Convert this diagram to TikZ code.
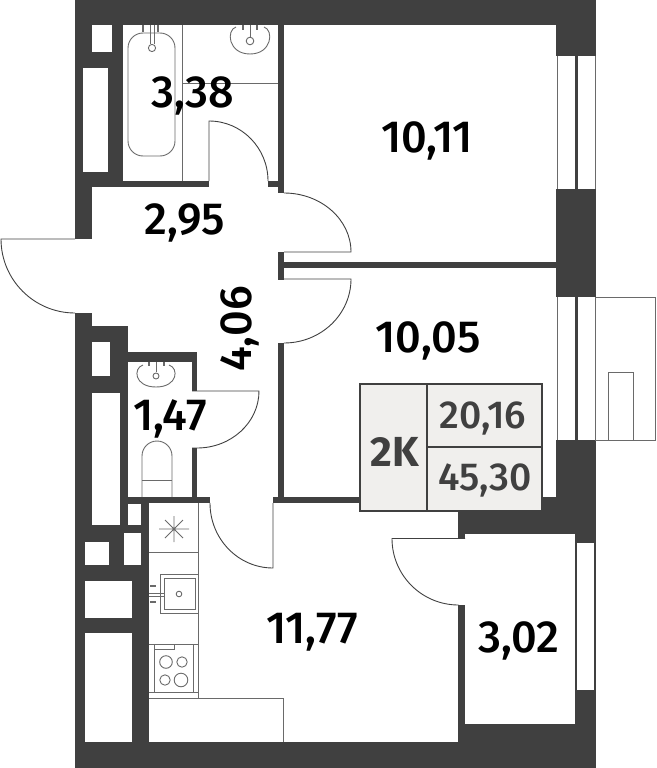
\documentclass[tikz,border=0pt]{standalone}
\usepackage{fontspec}
\setmainfont{Fira Sans}[UprightFont=* Medium,BoldFont=* Bold]
\definecolor{wallc}{HTML}{404040}
\definecolor{boxc}{HTML}{F0EFED}
\definecolor{linec}{HTML}{6A6A6A}
\tikzset{
  wall/.style={fill=wallc,draw=none},
  hole/.style={fill=white,draw=none},
  doorline/.style={draw=wallc,line width=0.9pt},
  fixture/.style={draw=linec,line width=0.9pt},
  area/.style={font=\fontsize{45}{45}\selectfont,text=black,inner sep=0pt},
  boxnum/.style={font=\fontsize{39}{39}\selectfont,text=wallc,inner sep=0pt}
}
\begin{document}
\begin{tikzpicture}[x=1pt,y=-1pt]
\useasboundingbox (0,0) rectangle (656,768);
% walls
\fill[wall] (75,0) rectangle (596,25);
\fill[wall] (75,0) rectangle (92,239);
\fill[wall] (92,25) rectangle (123,187);
\fill[wall] (123,181) rectangle (209,187);
\fill[wall] (268,181) rectangle (284,187);
\fill[wall] (278,25) rectangle (284,193);
\fill[wall] (278,252) rectangle (284,280);
\fill[wall] (284,262) rectangle (557,268);
\fill[wall] (278,343) rectangle (284,503);
\fill[wall] (273,497) rectangle (365,503);
\fill[wall] (75,313) rectangle (92,768);
\fill[wall] (92,326) rectangle (128,503);
\fill[wall] (128,352) rectangle (197,362);
\fill[wall] (192,352) rectangle (197,391);
\fill[wall] (192,448) rectangle (197,503);
\fill[wall] (128,497) rectangle (210,503);
\fill[wall] (92,503) rectangle (149,768);
\fill[wall] (75,742) rectangle (596,768);
\fill[wall] (556,0) rectangle (596,56);
\fill[wall] (556,189) rectangle (596,297);
\fill[wall] (556,440) rectangle (596,534);
\fill[wall] (530,497) rectangle (557,534);
\fill[wall] (458,505) rectangle (596,534);
\fill[wall] (458,505) rectangle (465,538);
\fill[wall] (458,605) rectangle (465,768);
\fill[wall] (458,724) rectangle (596,768);
\fill[wall] (575,534) rectangle (596,768);
% windows and shafts
\fill[hole] (92,25) rectangle (112,52);
\fill[hole] (83,68) rectangle (108,172);
\fill[hole] (92,342) rectangle (110,376);
\fill[hole] (92,393) rectangle (120,525);
\fill[hole] (128,504) rectangle (141,525);
\fill[hole] (124,533) rectangle (141,565);
\fill[hole] (85,542) rectangle (109,565);
\fill[hole] (85,581) rectangle (132,618);
\fill[hole] (85,633) rectangle (132,742);
\fill[hole] (558,56) rectangle (594,189);
\fill[hole] (558,297) rectangle (594,440);
\fill[hole] (577,543) rectangle (594,690);
\fill[wall] (575,56) rectangle (577.5,189);
\fill[wall] (575,297) rectangle (577.5,440);
% balcony
\draw[fixture] (595,297) rectangle (655,440);
\draw[fixture] (608,372) rectangle (633,440);
\draw[fixture] (595,56) -- (595,189);
\draw[fixture] (557,56) -- (557,189) (557,297) -- (557,440);
% doors
\draw[doorline] (209,181) -- (209,121) arc[start angle=-90,end angle=0,x radius=59,y radius=60];
\draw[doorline] (284,193) arc[start angle=-90,end angle=0,x radius=67,y radius=59] -- (284,252);
\draw[doorline] (284,279) -- (351,279) arc[start angle=0,end angle=90,x radius=67,y radius=64];
\draw[doorline] (75,239) -- (1,239) arc[start angle=180,end angle=90,radius=74];
\draw[doorline] (192,391) -- (259,391) arc[start angle=0,end angle=90,x radius=62,y radius=57] -- (192,448);
\draw[doorline] (273,503) -- (273,568) arc[start angle=90,end angle=180,x radius=63,y radius=65];
\draw[doorline] (465,538.5) -- (392,538.5) arc[start angle=180,end angle=90,radius=66.5];
% bathroom fixtures
\draw[fixture] (182,25) -- (182,181);
\draw[fixture] (182,83) -- (278,83);
\draw[fixture,rounded corners=15pt] (128,33) rectangle (175,156);
\draw[fixture] (150,25) -- (150,44) (154,25) -- (154,44);
\draw[fixture,fill=white] (152,48) circle[radius=3.6];
\draw[fixture,line width=1.5pt] (143,25) -- (143,32) (158,25) -- (158,32);
\draw[fixture] (236,27) .. controls (226,30) and (228,54) .. (250,54) .. controls (272,54) and (274,30) .. (264,27);
\draw[fixture] (250,25) -- (250,37);
\draw[fixture] (250,41) circle[radius=3.8];
\draw[fixture,line width=1.5pt] (243,25) -- (243,30) (257,25) -- (257,30);
% WC fixtures
\draw[fixture] (143,365) .. controls (133,368) and (134,387) .. (156,387) .. controls (178,387) and (179,368) .. (169,365);
\draw[fixture] (156,362) -- (156,372);
\draw[fixture] (156,376) circle[radius=3];
\draw[fixture,line width=1.5pt] (149,362) -- (149,366) (164,362) -- (164,366);
\draw[fixture] (142,497) -- (142,456) arc[start angle=180,end angle=360,radius=15] -- (172,497);
\draw[fixture] (142,480) -- (172,480);
% kitchen
\draw[fixture] (198,503) -- (198,698);
\draw[fixture] (149,552) -- (198,552);
\draw[fixture] (149,698) -- (283,698) -- (283,742);
\draw[fixture] (159,529) -- (189,529) (174,516) -- (174,542) (165,520) -- (183,538) (165,538) -- (183,520);
\draw[fixture] (160,574) rectangle (198,613);
\draw[fixture] (164,578) rectangle (195,609);
\draw[fixture] (179,594) circle[radius=2.8];
\draw[fixture] (149,593) -- (164,593) (149,596) -- (164,596);
\draw[fixture,line width=1.5pt] (150,586) -- (156,586) (150,602) -- (156,602);
\draw[fixture] (149,644) -- (198,644);
\draw[fixture] (149,692) -- (198,692);
\draw[fixture] (154,644) rectangle (193,692);
\draw[fixture] (154,644) rectangle (174,649);
\draw[fixture] (166,662) circle[radius=6.3];
\draw[fixture] (182,662) circle[radius=5.2];
\draw[fixture] (165,680) circle[radius=5.2];
\draw[fixture] (181,680) circle[radius=6.8];
% summary box
\draw[draw=wallc,fill=boxc,line width=1.8pt] (360,384) rectangle (542,511);
\draw[draw=wallc,line width=1.8pt] (427,384) -- (427,511);
\draw[draw=wallc,line width=1.8pt] (427,447) -- (542,447);
\node[inner sep=0pt,text=wallc,font=\fontsize{42}{42}\selectfont\bfseries] (kind) at (395,452) {2K};
\node[boxnum] (living) at (483,418) {20,16};
\node[boxnum] (total) at (485,480) {45,30};
% room areas
\node[area] (bath) at (193,96) {3,38};
\node[area] (room1) at (427,141) {10,11};
\node[area] (hall) at (185,223) {2,95};
\node[area] (room2) at (428,341) {10,05};
\node[area,rotate=90] (corr) at (240,329) {4,06};
\node[area] (wc) at (170,419) {1,47};
\node[area] (kitchen) at (312,632) {11,77};
\node[area] (loggia) at (519,641) {3,02};
\end{tikzpicture}
\end{document}
